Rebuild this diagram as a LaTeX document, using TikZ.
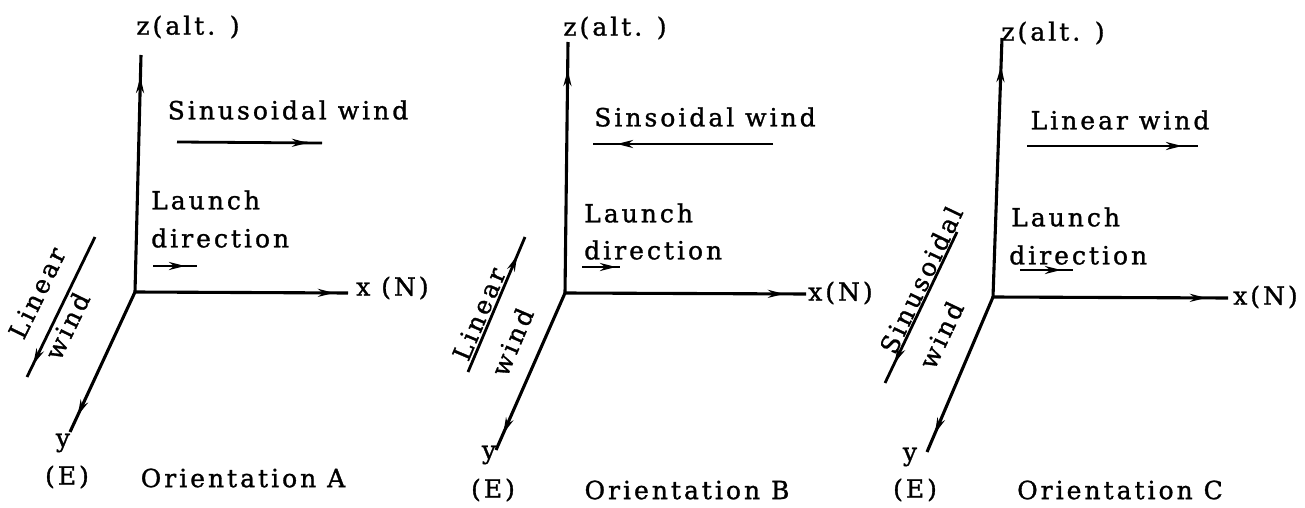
\documentclass[tikz,border=0pt]{standalone}
\usepackage{fontspec}
\setmainfont[LetterSpace=12,FakeBold=1.2]{DejaVu Serif}
\usetikzlibrary{arrows.meta,decorations.markings}
\tikzset{
  axis/.style={line width=3.1pt},
  wind/.style={line width=2.8pt},
  headat/.style={postaction={decorate,decoration={markings,mark=at position #1 with {\arrow{Stealth[length=16pt,width=8pt]}}}}},
  lbl/.style={inner sep=0pt,font=\fontsize{25}{30}\selectfont},
}
\begin{document}
\begin{tikzpicture}[x=1pt,y=-1pt]
\useasboundingbox (0,0) rectangle (1305,508);
% ---------- Orientation A ----------
\coordinate (OA) at (135,292);
\coordinate (zA) at (141,55);
\coordinate (xA) at (348,293);
\coordinate (yA) at (70,432);
\draw[axis,headat=-22pt] (OA) -- (zA);
\draw[axis,headat=-14pt] (OA) -- (xA);
\draw[axis,headat=-18pt] (OA) -- (yA);
\node[lbl] (zlA) at (188,27) {z(alt. )};
\node[lbl,anchor=west] (xlA) at (356,288) {x (N)};
\node[lbl] (ylA) at (63,443) {y};
\node[lbl] (elA) at (67,477) {(E)};
\node[lbl] (orA) at (243,478) {Orientation A};
\node[lbl] (swA) at (288,110) {Sinusoidal wind};
\coordinate (swAs) at (177,142);
\coordinate (swAe) at (322,143);
\draw[wind,headat=-14pt] (swAs) -- (swAe);
\node[lbl,anchor=west] (laA) at (151,200) {Launch};
\node[lbl,anchor=west] (diA) at (151,238) {direction};
\coordinate (ldAs) at (153,266);
\coordinate (ldAe) at (197,266);
\draw[wind,headat=-12pt] (ldAs) -- (ldAe);
\coordinate (lwAs) at (95,237);
\coordinate (lwAe) at (27,377);
\draw[wind,headat=-14pt] (lwAs) -- (lwAe);
\node[lbl,rotate=64] (lnA) at (37,293) {Linear};
\node[lbl,rotate=64] (wnA) at (67,326) {wind};
% ---------- Orientation B ----------
\coordinate (OB) at (565,293);
\coordinate (zB) at (568,42);
\coordinate (xB) at (806,294);
\coordinate (yB) at (496,450);
\draw[axis,headat=-28pt] (OB) -- (zB);
\draw[axis,headat=-22pt] (OB) -- (xB);
\draw[axis,headat=-18pt] (OB) -- (yB);
\node[lbl] (zlB) at (615,28) {z(alt. )};
\node[lbl,anchor=west] (xlB) at (808,293) {x(N)};
\node[lbl] (ylB) at (489,455) {y};
\node[lbl] (elB) at (493,490) {(E)};
\node[lbl] (orB) at (687,490) {Orientation B};
\node[lbl] (swB) at (705,117) {Sinsoidal wind};
\coordinate (swBs) at (773,144);
\coordinate (swBe) at (593,144);
\draw[wind,headat=-24pt] (swBs) -- (swBe);
\node[lbl,anchor=west] (laB) at (584,213) {Launch};
\node[lbl,anchor=west] (diB) at (584,250) {direction};
\coordinate (ldBs) at (582,267);
\coordinate (ldBe) at (620,267);
\draw[wind,headat=-4pt] (ldBs) -- (ldBe);
\coordinate (lwBs) at (468,372);
\coordinate (lwBe) at (525,237);
\draw[wind,headat=-20pt] (lwBs) -- (lwBe);
\node[lbl,rotate=67] (lnB) at (479,314) {Linear};
\node[lbl,rotate=67] (wnB) at (512,342) {wind};
% ---------- Orientation C ----------
\coordinate (OC) at (993,297);
\coordinate (zC) at (1002,38);
\coordinate (xC) at (1228,298);
\coordinate (yC) at (927,452);
\draw[axis,headat=-28pt] (OC) -- (zC);
\draw[axis,headat=-22pt] (OC) -- (xC);
\draw[axis,headat=-20pt] (OC) -- (yC);
\node[lbl] (zlC) at (1053,33) {z(alt. )};
\node[lbl,anchor=west] (xlC) at (1233,297) {x(N)};
\node[lbl] (ylC) at (910,457) {y};
\node[lbl] (elC) at (915,490) {(E)};
\node[lbl] (orC) at (1120,490) {Orientation C};
\node[lbl] (lwCt) at (1120,120) {Linear wind};
\coordinate (lwCs) at (1027,146);
\coordinate (lwCe) at (1198,146);
\draw[wind,headat=-16pt] (lwCs) -- (lwCe);
\node[lbl,anchor=west] (laC) at (1011,217) {Launch};
\node[lbl,anchor=west] (diC) at (1009,255) {direction};
\coordinate (ldCs) at (1020,270);
\coordinate (ldCe) at (1073,270);
\draw[wind,headat=-12pt] (ldCs) -- (ldCe);
\coordinate (swCs) at (957,232);
\coordinate (swCe) at (885,383);
\draw[wind,headat=-22pt] (swCs) -- (swCe);
\node[lbl,rotate=64.5] (snC) at (921,280) {Sinusoidal};
\node[lbl,rotate=64.5] (wnC) at (941,335) {wind};
\end{tikzpicture}
\end{document}
